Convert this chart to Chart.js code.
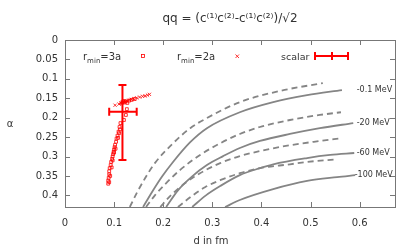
<!DOCTYPE html>
<html>
<head>
<meta charset="utf-8">
<script src="https://cdn.jsdelivr.net/npm/chart.js@4.4.1/dist/chart.umd.min.js"></script>
<style>
  html, body { margin: 0; padding: 0; background: #fff; }
  #wrap { width: 415px; height: 249px; }
</style>
</head>
<body>
<div id="wrap"><canvas id="chart" width="415" height="249"></canvas></div>
<script>
// --- tick values ---
const xTicks = [0, 0.1, 0.2, 0.3, 0.4, 0.5, 0.6];
const yTicks = [0, 0.05, 0.1, 0.15, 0.2, 0.25, 0.3, 0.35, 0.4];

// --- red points, r_min = 3a (open squares) ---
const sq3aX = [0.088, 0.088, 0.089, 0.090, 0.090, 0.091, 0.093, 0.094, 0.096, 0.097, 0.098, 0.099, 0.100, 0.101, 0.102, 0.104, 0.105, 0.107, 0.109, 0.111, 0.113, 0.120, 0.124, 0.126,
               0.090, 0.092, 0.095, 0.097, 0.100, 0.103, 0.108, 0.110, 0.112,
               0.115, 0.118, 0.121, 0.119, 0.124, 0.127, 0.131, 0.136, 0.142];
const sq3aY = [0.370, 0.362, 0.355, 0.346, 0.338, 0.330, 0.322, 0.314, 0.306, 0.300, 0.294, 0.288, 0.282, 0.276, 0.270, 0.262, 0.254, 0.246, 0.236, 0.224, 0.214, 0.206, 0.193, 0.178,
               0.366, 0.350, 0.328, 0.310, 0.290, 0.280, 0.252, 0.240, 0.230,
               0.163, 0.160, 0.161, 0.157, 0.158, 0.162, 0.156, 0.154, 0.152];

// --- red points, r_min = 2a (crosses) ---
const x2aX = [0.102, 0.110, 0.114, 0.117, 0.120, 0.123, 0.126, 0.130, 0.135, 0.140, 0.146, 0.152, 0.158, 0.163, 0.168, 0.172];
const x2aY = [0.168, 0.165, 0.162, 0.160, 0.159, 0.158, 0.157, 0.155, 0.153, 0.151, 0.149, 0.147, 0.145, 0.144, 0.142, 0.140];

// --- scalar point with error bars ---
const scalarX = 0.117, scalarY = 0.185;
const scalarXerr = [0.090, 0.146];
const scalarYerr = [0.116, 0.309];

// --- gray curves (solid = labelled energies, dashed = partner curves) ---
const sol1X = [0.159, 0.177, 0.198, 0.220, 0.255, 0.289, 0.356, 0.424, 0.493, 0.564];
const sol1Y = [0.430, 0.392, 0.351, 0.314, 0.263, 0.227, 0.186, 0.160, 0.142, 0.129];
const sol2X = [0.206, 0.230, 0.259, 0.289, 0.322, 0.356, 0.397, 0.458, 0.519, 0.587];
const sol2Y = [0.430, 0.387, 0.351, 0.322, 0.299, 0.278, 0.260, 0.242, 0.227, 0.214];
const sol3X = [0.259, 0.287, 0.316, 0.356, 0.397, 0.424, 0.493, 0.540, 0.589];
const sol3Y = [0.430, 0.400, 0.376, 0.348, 0.330, 0.320, 0.304, 0.296, 0.291];
const sol4X = [0.326, 0.356, 0.424, 0.493, 0.554, 0.591];
const sol4Y = [0.430, 0.412, 0.384, 0.363, 0.353, 0.348];

const dash1X = [0.132, 0.147, 0.163, 0.183, 0.220, 0.255, 0.289, 0.356, 0.438, 0.525];
const dash1Y = [0.430, 0.392, 0.356, 0.317, 0.266, 0.227, 0.201, 0.160, 0.131, 0.111];
const dash2X = [0.165, 0.183, 0.204, 0.234, 0.275, 0.316, 0.356, 0.397, 0.458, 0.519, 0.562];
const dash2Y = [0.430, 0.400, 0.371, 0.335, 0.296, 0.266, 0.242, 0.224, 0.206, 0.193, 0.186];
const dash3X = [0.194, 0.214, 0.244, 0.275, 0.316, 0.356, 0.397, 0.458, 0.519, 0.562];
const dash3Y = [0.430, 0.402, 0.369, 0.343, 0.317, 0.299, 0.286, 0.271, 0.260, 0.253];
const dash4X = [0.230, 0.255, 0.285, 0.316, 0.356, 0.397, 0.458, 0.493, 0.554];
const dash4Y = [0.430, 0.405, 0.379, 0.361, 0.343, 0.330, 0.320, 0.314, 0.307];

// --- curve labels ---
const energyLabels = ['-0.1 MeV', '-20 MeV', '-60 MeV', '-100 MeV'];
const energyLabelX = [0.594, 0.594, 0.594, 0.590];
const energyLabelY = [0.129, 0.214, 0.291, 0.348];

const RED = '#ff0000';
const GRAY = '#858585';
const TEXT = '#333333';
const FONT = '"DejaVu Sans", sans-serif';

const zip = (xs, ys) => xs.map((v, i) => ({ x: v, y: ys[i] }));

function curve(xs, ys, dashed) {
    return {
        data: zip(xs, ys),
        showLine: true,
        borderColor: GRAY,
        borderWidth: 1.8,
        borderDash: dashed ? [6, 4] : [],
        pointRadius: 0,
        cubicInterpolationMode: 'monotone',
        fill: false
    };
}

const decor = {
    id: 'decor',
    beforeDatasetsDraw(chart) {
        const { ctx, chartArea: a, scales: { x, y } } = chart;
        ctx.save();
        ctx.strokeStyle = '#777';
        ctx.lineWidth = 1;
        ctx.strokeRect(Math.round(a.left) + 0.5, Math.round(a.top) + 0.5,
            Math.round(a.right - a.left), Math.round(a.bottom - a.top));
        ctx.beginPath();
        xTicks.forEach(v => {
            const px = Math.round(x.getPixelForValue(v)) + 0.5;
            ctx.moveTo(px, a.bottom); ctx.lineTo(px, a.bottom - 5);
            ctx.moveTo(px, a.top); ctx.lineTo(px, a.top + 5);
        });
        yTicks.forEach(v => {
            const py = Math.round(y.getPixelForValue(v)) + 0.5;
            ctx.moveTo(a.left, py); ctx.lineTo(a.left + 5, py);
            ctx.moveTo(a.right, py); ctx.lineTo(a.right - 5, py);
        });
        ctx.stroke();
        ctx.restore();
    },
    afterDatasetsDraw(chart) {
        const { ctx, chartArea: a, scales: { x, y } } = chart;
        ctx.save();

        // scalar error bars
        ctx.strokeStyle = RED;
        ctx.lineWidth = 2;
        const cx = x.getPixelForValue(scalarX), cy = y.getPixelForValue(scalarY);
        const x0 = x.getPixelForValue(scalarXerr[0]), x1 = x.getPixelForValue(scalarXerr[1]);
        const y0 = y.getPixelForValue(scalarYerr[0]), y1 = y.getPixelForValue(scalarYerr[1]);
        ctx.beginPath();
        ctx.moveTo(x0, cy); ctx.lineTo(x1, cy);
        ctx.moveTo(x0, cy - 4); ctx.lineTo(x0, cy + 4);
        ctx.moveTo(x1, cy - 4); ctx.lineTo(x1, cy + 4);
        ctx.moveTo(cx, y0); ctx.lineTo(cx, y1);
        ctx.moveTo(cx - 4, y0); ctx.lineTo(cx + 4, y0);
        ctx.moveTo(cx - 4, y1); ctx.lineTo(cx + 4, y1);
        ctx.stroke();

        // energy labels
        ctx.fillStyle = TEXT;
        ctx.font = '8px ' + FONT;
        ctx.textAlign = 'left';
        ctx.textBaseline = 'middle';
        energyLabels.forEach((t, i) => {
            ctx.fillText(t, x.getPixelForValue(energyLabelX[i]), y.getPixelForValue(energyLabelY[i]));
        });

        // legend
        const rmin = (px, py, tail) => {
            ctx.font = '10px ' + FONT;
            ctx.textBaseline = 'alphabetic';
            ctx.fillText('r', px, py);
            let w = ctx.measureText('r').width;
            ctx.font = '7px ' + FONT;
            ctx.fillText('min', px + w, py + 3);
            w += ctx.measureText('min').width;
            ctx.font = '10px ' + FONT;
            ctx.fillText(tail, px + w, py);
        };
        ctx.fillStyle = TEXT;
        rmin(83, 60, '=3a');
        rmin(177, 60, '=2a');
        ctx.font = '9.5px ' + FONT;
        ctx.fillText('scalar', 281, 60);

        ctx.strokeStyle = RED;
        ctx.lineWidth = 0.8;
        ctx.strokeRect(141.5, 54.5, 3, 3);
        ctx.beginPath();
        ctx.moveTo(235.5, 54.5); ctx.lineTo(239, 58);
        ctx.moveTo(239, 54.5); ctx.lineTo(235.5, 58);
        ctx.stroke();

        ctx.lineWidth = 2;
        ctx.beginPath();
        ctx.moveTo(315, 56); ctx.lineTo(348, 56);
        ctx.moveTo(315, 52); ctx.lineTo(315, 60);
        ctx.moveTo(348, 52); ctx.lineTo(348, 60);
        ctx.moveTo(332, 52); ctx.lineTo(332, 60);
        ctx.stroke();

        // title and axis titles
        ctx.fillStyle = TEXT;
        ctx.textAlign = 'center';
        ctx.textBaseline = 'middle';
        ctx.font = '12px ' + FONT;
        ctx.fillText('qq = (c\u207D\u00B9\u207Ec\u207D\u00B2\u207E-c\u207D\u00B9\u207Ec\u207D\u00B2\u207E)/\u221A2', (a.left + a.right) / 2, 19);
        ctx.font = '10px ' + FONT;
        ctx.fillText('d in fm', (a.left + a.right) / 2 - 19, 241);
        ctx.fillText('\u03B1', 10, 124);
        ctx.restore();
    }
};

new Chart(document.getElementById('chart').getContext('2d'), {
    type: 'scatter',
    data: {
        datasets: [
            curve(dash1X, dash1Y, true),
            curve(sol1X, sol1Y, false),
            curve(dash2X, dash2Y, true),
            curve(sol2X, sol2Y, false),
            curve(dash3X, dash3Y, true),
            curve(sol3X, sol3Y, false),
            curve(dash4X, dash4Y, true),
            curve(sol4X, sol4Y, false),
            {
                data: zip(sq3aX, sq3aY),
                pointStyle: 'rect',
                pointRadius: 2,
                borderWidth: 0.8,
                borderColor: RED,
                backgroundColor: 'rgba(0,0,0,0)'
            },
            {
                data: zip(x2aX, x2aY),
                pointStyle: 'crossRot',
                pointRadius: 2.3,
                borderWidth: 0.8,
                borderColor: RED
            }
        ]
    },
    options: {
        responsive: false,
        animation: false,
        events: [],
        layout: { padding: { top: 40, right: 20, left: 0, bottom: 0 } },
        plugins: { legend: { display: false }, tooltip: { enabled: false }, title: { display: false } },
        scales: {
            x: {
                type: 'linear',
                min: 0, max: 0.672,
                afterFit: s => { s.height = 42; },
                afterBuildTicks: s => { s.ticks = xTicks.map(v => ({ value: v })); },
                border: { display: false },
                grid: { display: false, drawTicks: false },
                ticks: { padding: 10, color: TEXT, font: { family: FONT, size: 10 }, maxRotation: 0, callback: v => String(v) }
            },
            y: {
                type: 'linear',
                reverse: true,
                min: 0, max: 0.43,
                afterFit: s => { s.width = 65; },
                afterBuildTicks: s => { s.ticks = yTicks.map(v => ({ value: v })); },
                border: { display: false },
                grid: { display: false, drawTicks: false },
                ticks: { padding: 7, color: TEXT, font: { family: FONT, size: 10 }, callback: v => String(v) }
            }
        }
    },
    plugins: [decor]
});
</script>
</body>
</html>
